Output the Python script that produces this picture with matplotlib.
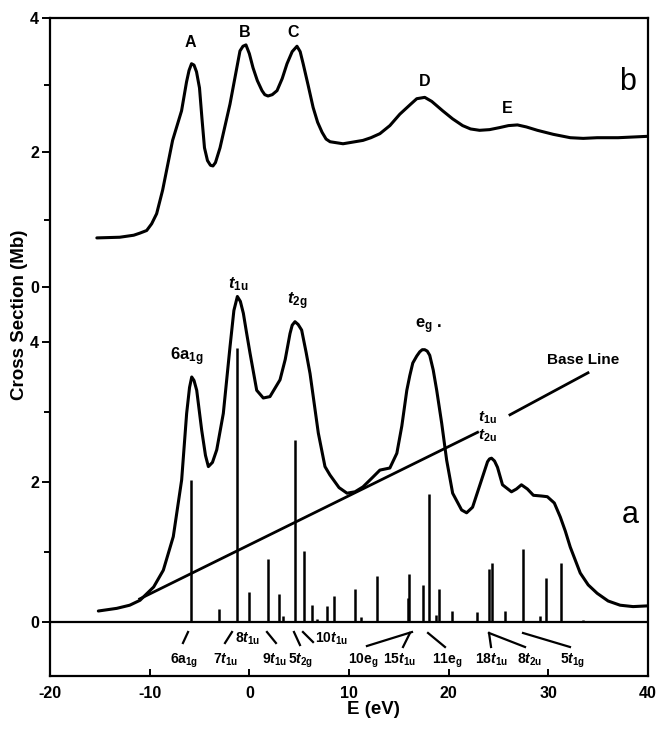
import matplotlib
matplotlib.use('Agg')
import matplotlib.pyplot as plt

plt.rcParams['font.family'] = ['Liberation Sans', 'DejaVu Sans']
plt.rcParams['font.weight'] = 'bold'
plt.rcParams['mathtext.fontset'] = 'custom'
plt.rcParams['mathtext.rm'] = 'Liberation Sans:bold'
plt.rcParams['mathtext.it'] = 'Liberation Sans:italic:bold'
plt.rcParams['mathtext.bf'] = 'Liberation Sans:bold'
plt.rcParams['axes.unicode_minus'] = False

# ---- spectrum a (calculated), lower scale, Mb ----
A_E = [-15.15, -13.3, -12.0, -10.97, -9.6, -8.63, -7.63, -6.79, -6.29, -6.0, -5.78,
       -5.55, -5.28, -4.78, -4.4, -4.11, -3.7, -3.27, -2.61, -1.94, -1.55, -1.2,
       -0.9, -0.6, -0.3, 0.07, 0.74, 1.4, 2.07, 3.08, 3.6, 4.08, 4.3, 4.58, 4.9,
       5.25, 5.7, 6.09, 6.92, 7.59, 8.09, 9.0, 9.8, 10.6, 11.4, 12.4, 13.1, 14.1,
       14.8, 15.3, 15.8, 16.1, 16.4, 16.8, 17.1, 17.35, 17.6, 17.85, 18.1, 18.45,
       18.8, 19.3, 19.8, 20.4, 21.3, 21.8, 22.4, 23.3, 23.9, 24.1, 24.3, 24.6,
       24.9, 25.4, 26.3, 26.8, 27.3, 27.9, 28.5, 29.3, 29.9, 30.6, 31.2, 31.7,
       32.2, 33.2, 34.0, 34.9, 36.0, 37.2, 38.5, 39.9]
A_Y = [0.157, 0.195, 0.24, 0.31, 0.5, 0.74, 1.22, 2.03, 2.98, 3.35, 3.5,
       3.45, 3.31, 2.74, 2.38, 2.22, 2.28, 2.46, 2.98, 3.93, 4.45, 4.65,
       4.58, 4.41, 4.15, 3.84, 3.31, 3.2, 3.22, 3.46, 3.75, 4.12, 4.24, 4.29, 4.25,
       4.17, 3.85, 3.55, 2.7, 2.22, 2.1, 1.92, 1.84, 1.86, 1.93, 2.07, 2.17, 2.2,
       2.41, 2.8, 3.31, 3.52, 3.7, 3.8, 3.86, 3.89, 3.89, 3.87, 3.81, 3.6,
       3.31, 2.84, 2.31, 1.84, 1.6, 1.56, 1.64, 2.03, 2.29, 2.33, 2.34, 2.3,
       2.21, 1.96, 1.86, 1.9, 1.96, 1.9, 1.81, 1.8, 1.79, 1.7, 1.5, 1.3,
       1.07, 0.7, 0.53, 0.41, 0.3, 0.24, 0.22, 0.23]

# ---- spectrum b (experimental), upper scale, Mb ----
B_E = [-15.3, -13.0, -11.6, -11.0, -10.3, -9.8, -9.3, -8.7, -7.7, -6.8, -6.3, -6.05,
       -5.8, -5.55, -5.3, -5.0, -4.75, -4.5, -4.2, -3.9, -3.65, -3.4, -2.94, -1.94,
       -0.94, -0.64, -0.34, 0.0, 0.37, 0.8, 1.27, 1.55, 1.87, 2.3, 2.78, 3.3, 3.78,
       4.3, 4.78, 5.1, 5.4, 5.9, 6.4, 6.85, 7.3, 7.7, 8.1, 9.4, 11.4, 12.2, 13.1,
       14.1, 15.1, 16.2, 16.8, 17.6, 18.3, 19.4, 20.4, 21.4, 22.2, 23.1, 24.1, 25.1,
       26.0, 26.9, 27.8, 28.9, 30.5, 32.2, 33.5, 34.9, 37.0, 39.9]
B_Y = [0.73, 0.74, 0.77, 0.80, 0.84, 0.94, 1.09, 1.44, 2.18, 2.62, 3.05, 3.22,
       3.32, 3.3, 3.2, 2.96, 2.5, 2.07, 1.88, 1.81, 1.8, 1.85, 2.07, 2.72,
       3.51, 3.58, 3.6, 3.47, 3.26, 3.07, 2.92, 2.86, 2.84, 2.86, 2.92, 3.1, 3.32,
       3.5, 3.58, 3.5, 3.32, 3.0, 2.67, 2.45, 2.3, 2.2, 2.16, 2.13, 2.18, 2.22, 2.28,
       2.4, 2.57, 2.72, 2.8, 2.82, 2.76, 2.62, 2.5, 2.4, 2.35, 2.33, 2.34, 2.37,
       2.4, 2.41, 2.38, 2.33, 2.27, 2.22, 2.21, 2.22, 2.22, 2.24]

# ---- stick (oscillator strength) spectrum ----
STICK_E = [-5.83, -3.0, -1.27, -0.03, 1.84, 3.0, 3.34, 4.55, 5.45, 6.25, 6.83, 7.82,
           8.49, 10.6, 11.2, 12.78, 15.95, 16.05, 17.45, 18.0, 18.75, 19.06, 20.36,
           22.8, 24.07, 24.35, 25.7, 27.5, 29.2, 29.76, 31.24, 33.5]
STICK_H = [2.03, 0.19, 3.91, 0.43, 0.9, 0.4, 0.09, 2.6, 1.01, 0.24, 0.04, 0.23,
           0.37, 0.47, 0.07, 0.66, 0.34, 0.69, 0.53, 1.83, 0.1, 0.47, 0.16,
           0.14, 0.76, 0.85, 0.16, 1.04, 0.09, 0.63, 0.84, 0.03]

# ---- base line ----
BASE_E = [-11.0, 22.9]
BASE_Y = [0.33, 2.71]

X_TICKS = [-20, -10, 0, 10, 20, 30, 40]
Y_MAJOR = [0, 2, 4]
Y_MINOR = [1, 3]

# assignment labels below zero line: (text, x, y)
ASSIGN = [
    ('6a$_{\\mathrm{1g}}$', -7.96, -0.6),
    ('7$t_{\\mathrm{1u}}$', -3.65, -0.6),
    ('8$t_{\\mathrm{1u}}$', -1.44, -0.29),
    ('9$t_{\\mathrm{1u}}$', 1.27, -0.6),
    ('5$t_{\\mathrm{2g}}$', 3.88, -0.6),
    ('10$t_{\\mathrm{1u}}$', 6.59, -0.29),
    ('10e$_{\\mathrm{g}}$', 9.9, -0.6),
    ('15$t_{\\mathrm{1u}}$', 13.41, -0.6),
    ('11e$_{\\mathrm{g}}$', 18.33, -0.6),
    ('18$t_{\\mathrm{1u}}$', 22.64, -0.6),
    ('8$t_{\\mathrm{2u}}$', 26.85, -0.6),
    ('5$t_{\\mathrm{1g}}$', 31.17, -0.6),
]
LEADERS = [
    ((-6.66, -6.15), (-0.30, -0.143)),
    ((-2.44, -1.74), (-0.30, -0.143)),
    ((1.77, 2.67), (-0.143, -0.30)),
    ((4.48, 5.08), (-0.143, -0.329)),
    ((5.38, 6.39), (-0.143, -0.286)),
    ((11.8, 16.32), (-0.343, -0.143)),
    ((15.42, 16.12), (-0.357, -0.157)),
    ((17.93, 19.63), (-0.157, -0.357)),
    ((24.05, 24.25), (-0.157, -0.357)),
    ((24.05, 27.66), (-0.157, -0.357)),
    ((27.46, 32.17), (-0.157, -0.357)),
]

fig = plt.figure(figsize=(6.59, 7.29), dpi=100)
rect = [50 / 659, 53 / 729, 598 / 659, 658 / 729]
ax = fig.add_axes(rect)
axb = fig.add_axes(rect)
axb.patch.set_visible(False)
for s in axb.spines.values():
    s.set_visible(False)

ax.set_xlim(-20, 40)
axb.set_xlim(-20, 40)
ax.set_ylim(-54 / 70, 604 / 70)
axb.set_ylim(-389 / 67.25, 4.0)

for s in ax.spines.values():
    s.set_linewidth(1.6)

ax.set_xticks(X_TICKS)
ax.tick_params(axis='x', direction='in', length=5, width=1.4, pad=7, labelsize=11.5)
for a in (ax, axb):
    a.set_yticks(Y_MAJOR)
    a.set_yticks(Y_MINOR, minor=True)
    a.tick_params(axis='y', which='major', direction='out', length=6, width=1.4,
                  pad=2, labelsize=11.5)
    a.tick_params(axis='y', which='minor', direction='out', length=4.5, width=1.4)
axb.tick_params(axis='x', bottom=False, labelbottom=False)
axb.spines['left'].set_visible(False)

lw = 2.2
ax.axhline(0, color='black', lw=1.6)
ax.vlines(STICK_E, 0, STICK_H, color='black', lw=1.8)
ax.plot(A_E, A_Y, color='black', lw=lw, solid_joinstyle='round', solid_capstyle='round')
axb.plot(B_E, B_Y, color='black', lw=lw, solid_joinstyle='round', solid_capstyle='round')
ax.plot(BASE_E, BASE_Y, color='black', lw=2.0)
ax.plot([26.15, 33.98], [2.96, 3.56], color='black', lw=2.0)

# upper peak letters
for t, x, y in [('A', -5.95, 3.63), ('B', -0.44, 3.78), ('C', 4.38, 3.78),
                ('D', 17.62, 3.05), ('E', 25.85, 2.66)]:
    axb.text(x, y, t, ha='center', va='center', fontsize=11.5, fontweight='bold')
axb.text(37.99, 3.05, 'b', ha='center', va='center', fontsize=22, fontweight='normal')

# lower labels
ax.text(-7.96, 3.74, '6a$_{\\mathrm{1g}}$', ha='left', va='baseline', fontsize=12)
ax.text(-2.14, 4.77, '$t_{\\mathrm{1u}}$', ha='left', va='baseline', fontsize=12)
ax.text(3.78, 4.54, '$t_{\\mathrm{2g}}$', ha='left', va='baseline', fontsize=12)
ax.text(16.62, 4.2, 'e$_{\\mathrm{g}}$ .', ha='left', va='baseline', fontsize=12)
ax.text(33.48, 3.74, 'Base Line', ha='center', va='center', fontsize=11)
ax.text(22.94, 2.87, '$t_{\\mathrm{1u}}$', ha='left', va='baseline', fontsize=11)
ax.text(22.94, 2.6, '$t_{\\mathrm{2u}}$', ha='left', va='baseline', fontsize=11)
ax.text(38.19, 1.53, 'a', ha='center', va='center', fontsize=22, fontweight='normal')

for t, x, y in ASSIGN:
    ax.text(x, y, t, ha='left', va='baseline', fontsize=10)
for xs, ys in LEADERS:
    ax.plot(xs, ys, color='black', lw=1.6)

fig.text(20 / 659, 1 - 315 / 729, 'Cross Section (Mb)', rotation=90, ha='center',
         va='center', fontsize=13.5, fontweight='bold')
fig.text(373 / 659, 1 - 710 / 729, 'E (eV)', ha='center', va='center', fontsize=13.5,
         fontweight='bold')

fig.savefig('out.png', dpi=100)
